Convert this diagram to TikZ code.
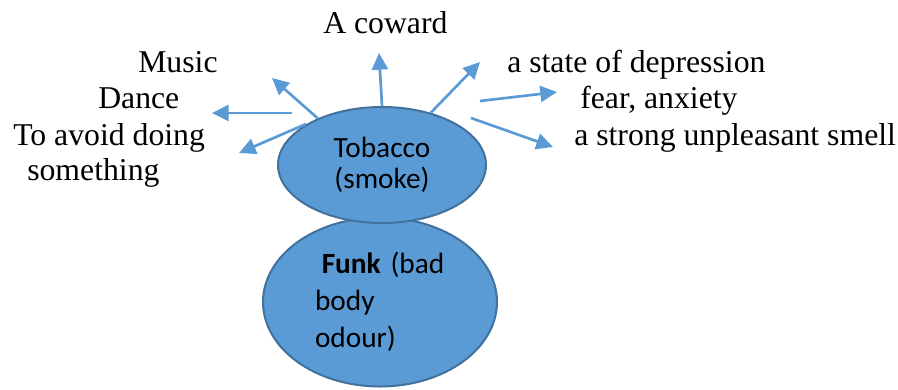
\documentclass[tikz,border=0pt]{standalone}
\usepackage{fontspec}
\setmainfont{Liberation Serif}
\newfontfamily\calibrifont{Carlito}
\usetikzlibrary{arrows.meta,shapes.geometric}
\definecolor{blobfill}{HTML}{5B9BD5}
\definecolor{blobline}{HTML}{41719C}
\tikzset{
  blob/.style={ellipse, draw=blobline, line width=1.5pt, fill=blobfill, inner sep=0pt,
    font=\calibrifont\fontsize{22}{23.5}\selectfont},
  idea/.style={anchor=base west, inner sep=0pt, font=\fontsize{23.8}{27}\selectfont},
  ideaarrow/.style={-{Triangle[length=12.5pt,width=12pt]}, draw=blobfill, line width=2pt}
}

\begin{document}
\begin{tikzpicture}[x=0.75pt, y=-0.75pt]
    \useasboundingbox (0,0) rectangle (898,389);
    \node[blob, minimum width=175.5pt, minimum height=126.75pt, align=left, text width=97.5pt,
      font=\calibrifont\fontsize{22}{27.75}\selectfont] (funk) at (380,302)
      {\hspace*{0.23em}\textbf{Funk} (bad\\body\\odour)};
    \node[blob, minimum width=156pt, minimum height=87pt, align=center] (tobacco) at (382,165)
      {Tobacco\\(smoke)};
    \node[idea] (coward) at (323,33) {A coward};
    \node[idea] (music) at (138,72) {Music};
    \node[idea] (dance) at (98,108) {Dance};
    \node[idea] (avoid) at (13,145) {To avoid doing};
    \node[idea] (something) at (27,180) {something};
    \node[idea] (depression) at (507,72) {a state of depression};
    \node[idea] (fear) at (580,108) {fear, anxiety};
    \node[idea] (smell) at (574,145) {a strong unpleasant smell};
    \coordinate (cowardtip) at (379,53);
    \coordinate (musictip) at (272,78);
    \coordinate (dancetail) at (292,113);
    \coordinate (dancetip) at (212,113);
    \coordinate (avoidtail) at (306,124);
    \coordinate (avoidtip) at (239,153);
    \coordinate (depressiontip) at (480,62);
    \coordinate (feartail) at (480,101);
    \coordinate (feartip) at (557,92);
    \coordinate (smelltail) at (471,118);
    \coordinate (smelltip) at (553,147);
    \draw[ideaarrow] (tobacco.north) -- (cowardtip);
    \draw[ideaarrow] (tobacco.144) -- (musictip);
    \draw[ideaarrow] (dancetail) -- (dancetip);
    \draw[ideaarrow] (avoidtail) -- (avoidtip);
    \draw[ideaarrow] (tobacco.47) -- (depressiontip);
    \draw[ideaarrow] (feartail) -- (feartip);
    \draw[ideaarrow] (smelltail) -- (smelltip);
\end{tikzpicture}
\end{document}
